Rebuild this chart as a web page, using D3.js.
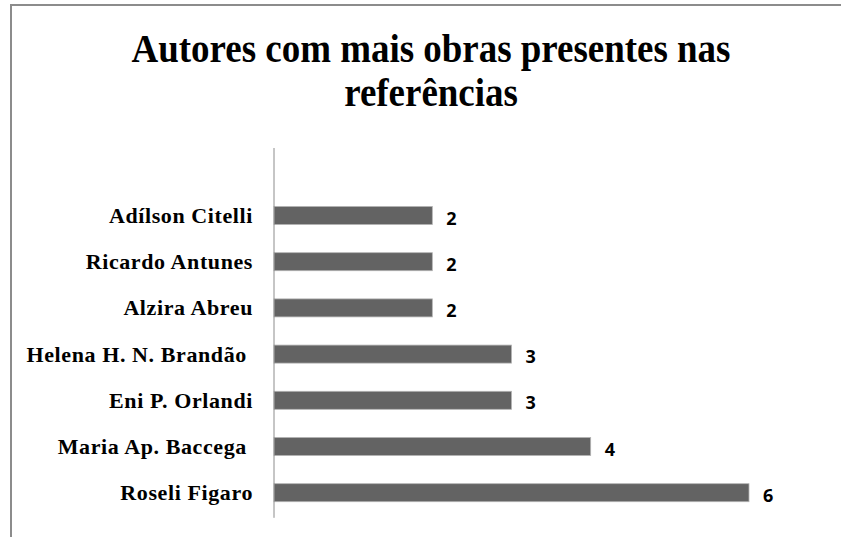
<!DOCTYPE html>
<html>
<head>
<meta charset="utf-8">
<script src="https://cdn.jsdelivr.net/npm/d3@7"></script>
<style>
  body { margin: 0; background: #fff; }
  text { white-space: pre; }
</style>
</head>
<body>
<script>
// data
var authors = ["Adílson Citelli", "Ricardo Antunes", "Alzira Abreu", "Helena H. N. Brandão ", "Eni P. Orlandi", "Maria Ap. Baccega ", "Roseli Figaro"];
var works = [2, 2, 2, 3, 3, 4, 6];
var titleLines = ["Autores com mais obras presentes nas", "referências"];

var W = 841, H = 537;

var svg = d3.select("body").append("svg")
    .attr("width", W)
    .attr("height", H);

// frame of the chart area (only top and left edges are visible in the picture)
svg.append("path")
    .attr("d", "M11,537 V5 H841")
    .attr("fill", "none")
    .attr("stroke", "#8c8c8c")
    .attr("stroke-width", 2);

// title, squeezed horizontally like the original (condensed look)
var titleG = svg.append("g");
var titleText = titleG.selectAll(".title").data(titleLines).enter().append("text")
    .attr("class", "title")
    .attr("x", 0)
    .attr("y", function(d, i) { return 62 + i * 44; })
    .attr("text-anchor", "middle")
    .style("font-family", "'Liberation Serif', 'Times New Roman', serif")
    .style("font-weight", "bold")
    .style("font-size", "40px")
    .attr("fill", "#000")
    .text(function(d) { return d; });
var firstLineWidth = titleText.node().getComputedTextLength();
var sx = Math.min(1, 599 / firstLineWidth);
titleG.attr("transform", "translate(431,0) scale(" + sx + ",1)");

// scales
var x = d3.scaleLinear()
    .domain([0, 6])
    .range([274, 749]);

var y = d3.scaleBand()
    .domain(authors)
    .range([192.4, 515.8])
    .paddingInner(0.61)
    .paddingOuter(0.305);

var data = authors.map(function(a, i) { return { name: a, value: works[i] }; });

// bars
svg.selectAll(".bar").data(data).enter().append("rect")
    .attr("class", "bar")
    .attr("x", x(0))
    .attr("y", function(d) { return y(d.name); })
    .attr("width", function(d) { return x(d.value) - x(0); })
    .attr("height", y.bandwidth())
    .attr("fill", "#636363")
    .attr("stroke", "#b4b4b4")
    .attr("stroke-width", 0.8);

// category labels
svg.selectAll(".cat").data(data).enter().append("text")
    .attr("class", "cat")
    .attr("x", 253)
    .attr("y", function(d) { return y(d.name) + y.bandwidth() / 2 + 7.5; })
    .attr("text-anchor", "end")
    .style("font-family", "'Liberation Serif', 'Times New Roman', serif")
    .style("font-weight", "bold")
    .style("font-size", "22px")
    .style("letter-spacing", "0.6px")
    .attr("fill", "#000")
    .text(function(d) { return d.name; });

// value labels
svg.selectAll(".val").data(data).enter().append("text")
    .attr("class", "val")
    .attr("x", function(d) { return x(d.value) + 14; })
    .attr("y", function(d) { return y(d.name) + y.bandwidth() / 2 + 9; })
    .style("font-family", "'Open Sans', 'Noto Sans', sans-serif")
    .style("font-weight", "bold")
    .style("font-size", "18px")
    .attr("fill", "#000")
    .text(function(d) { return d.value; });

// vertical category axis line
svg.append("line")
    .attr("x1", x(0)).attr("x2", x(0))
    .attr("y1", 148).attr("y2", y.range()[1] + 2)
    .attr("stroke", "#8c8c8c")
    .attr("stroke-width", 1);
</script>
</body>
</html>
